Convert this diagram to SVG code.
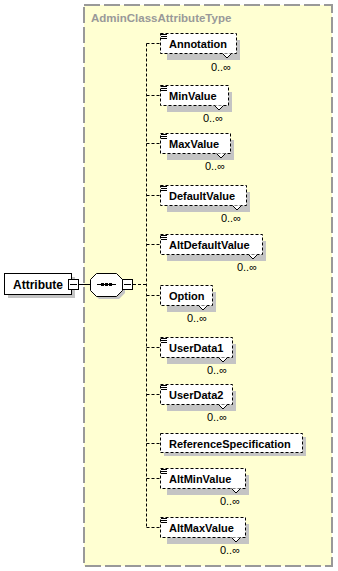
<svg xmlns="http://www.w3.org/2000/svg" width="338" height="571" viewBox="0 0 338 571">
<style>
.box{fill:#fff;stroke:#000;stroke-width:1;stroke-dasharray:3 2}
.sh{fill:#c4c4c4}
.lbl{font-family:"Liberation Sans",Arial,sans-serif;font-weight:bold;font-size:11px;fill:#000}
.mul{font-family:"Liberation Sans",Arial,sans-serif;font-size:11px;fill:#000;text-anchor:end}
.doc{stroke:#000;stroke-width:1}
.notch{fill:#fff;stroke:#000;stroke-width:1}
.con{stroke:#000;stroke-width:1;fill:none;stroke-dasharray:3 2}
.btn{fill:#fff;stroke:#000;stroke-width:1}
</style>
<rect x="84" y="5" width="248" height="561" fill="#ffffd2" stroke="#999" stroke-width="2" stroke-dasharray="16 4"/>
<text x="91" y="22" font-family="Liberation Sans,Arial,sans-serif" font-weight="bold" font-size="11.5" fill="#999">AdminClassAttributeType</text>

<g id="connectors">
<line x1="78" y1="284.5" x2="90" y2="284.5" stroke="#000"/>
<line class="con" x1="133" y1="284.5" x2="146.5" y2="284.5"/>
<line class="con" x1="146.5" y1="43.5" x2="146.5" y2="527.5"/>
<line class="con" x1="146.5" y1="43.5" x2="161" y2="43.5"/>
<line class="con" x1="146.5" y1="95.5" x2="161" y2="95.5"/>
<line class="con" x1="146.5" y1="143.5" x2="161" y2="143.5"/>
<line class="con" x1="146.5" y1="195.5" x2="161" y2="195.5"/>
<line class="con" x1="146.5" y1="244.5" x2="161" y2="244.5"/>
<line class="con" x1="146.5" y1="295.5" x2="161" y2="295.5"/>
<line class="con" x1="146.5" y1="347.5" x2="161" y2="347.5"/>
<line class="con" x1="146.5" y1="394.5" x2="161" y2="394.5"/>
<line class="con" x1="146.5" y1="443.5" x2="161" y2="443.5"/>
<line class="con" x1="146.5" y1="478.5" x2="161" y2="478.5"/>
<line class="con" x1="146.5" y1="527.5" x2="161" y2="527.5"/>
</g>

<g id="Attribute">
<rect x="8" y="277" width="67" height="21" class="sh"/>
<rect x="4.5" y="273.5" width="67" height="21" fill="#fff" stroke="#000"/>
<text x="13" y="289" font-family="Liberation Sans,Arial,sans-serif" font-weight="bold" font-size="12">Attribute</text>
<rect x="68.5" y="279.5" width="10" height="10" class="btn"/>
<line x1="70" y1="284.5" x2="77" y2="284.5" stroke="#000"/>
</g>

<g id="sequence">
<polygon points="99,276 119,276 125,282 125,293 119,299 99,299 93,293 93,282" class="sh"/>
<polygon points="96.5,273.5 116.5,273.5 122.5,279.5 122.5,290.5 116.5,296.5 96.5,296.5 90.5,290.5 90.5,279.5" fill="#fff" stroke="#000"/>
<line x1="97" y1="284.5" x2="116" y2="284.5" stroke="#000"/>
<rect x="101" y="283" width="3" height="3" fill="#000"/>
<rect x="105" y="283" width="3" height="3" fill="#000"/>
<rect x="109" y="283" width="3" height="3" fill="#000"/>
<rect x="122.5" y="279.5" width="10" height="10" class="btn"/>
<line x1="124" y1="284.5" x2="131" y2="284.5" stroke="#000"/>
</g>

<g id="Annotation">
<rect x="167" y="40" width="73" height="20" class="sh"/>
<rect x="160.5" y="33.5" width="76" height="20" class="box"/>
<path d="M222.5,53.5 L227,58 L231.5,53.5" class="notch"/>
<path d="M161,34.5h6M161,36.5h6M161,38.5h6" class="doc"/>
<text x="169" y="47.5" class="lbl">Annotation</text>
<text x="231" y="71" class="mul">0..∞</text>
</g>

<g id="MinValue">
<rect x="167" y="92" width="65" height="20" class="sh"/>
<rect x="160.5" y="85.5" width="68" height="20" class="box"/>
<path d="M214.5,105.5 L219,110 L223.5,105.5" class="notch"/>
<path d="M161,86.5h6M161,88.5h6M161,90.5h6" class="doc"/>
<text x="169" y="99.5" class="lbl">MinValue</text>
<text x="223" y="122" class="mul">0..∞</text>
</g>

<g id="MaxValue">
<rect x="167" y="140" width="67" height="20" class="sh"/>
<rect x="160.5" y="133.5" width="70" height="20" class="box"/>
<path d="M216.5,153.5 L221,158 L225.5,153.5" class="notch"/>
<path d="M161,134.5h6M161,136.5h6M161,138.5h6" class="doc"/>
<text x="169" y="147.5" class="lbl">MaxValue</text>
<text x="225" y="170" class="mul">0..∞</text>
</g>

<g id="DefaultValue">
<rect x="167" y="192" width="83" height="20" class="sh"/>
<rect x="160.5" y="185.5" width="86" height="20" class="box"/>
<path d="M232.5,205.5 L237,210 L241.5,205.5" class="notch"/>
<path d="M161,186.5h6M161,188.5h6M161,190.5h6" class="doc"/>
<text x="169" y="199.5" class="lbl">DefaultValue</text>
<text x="241" y="222" class="mul">0..∞</text>
</g>

<g id="AltDefaultValue">
<rect x="167" y="241" width="99" height="20" class="sh"/>
<rect x="160.5" y="234.5" width="102" height="20" class="box"/>
<path d="M248.5,254.5 L253,259 L257.5,254.5" class="notch"/>
<path d="M161,235.5h6M161,237.5h6M161,239.5h6" class="doc"/>
<text x="169" y="248.5" class="lbl">AltDefaultValue</text>
<text x="257" y="271" class="mul">0..∞</text>
</g>

<g id="Option">
<rect x="167" y="292" width="49" height="20" class="sh"/>
<rect x="160.5" y="285.5" width="52" height="20" class="box"/>
<path d="M198.5,305.5 L203,310 L207.5,305.5" class="notch"/>
<text x="169" y="299.5" class="lbl">Option</text>
<text x="207" y="322" class="mul">0..∞</text>
</g>

<g id="UserData1">
<rect x="167" y="344" width="69" height="20" class="sh"/>
<rect x="160.5" y="337.5" width="72" height="20" class="box"/>
<path d="M218.5,357.5 L223,362 L227.5,357.5" class="notch"/>
<path d="M161,338.5h6M161,340.5h6M161,342.5h6" class="doc"/>
<text x="169" y="351.5" class="lbl">UserData1</text>
<text x="227" y="374" class="mul">0..∞</text>
</g>

<g id="UserData2">
<rect x="167" y="391" width="69" height="20" class="sh"/>
<rect x="160.5" y="384.5" width="72" height="20" class="box"/>
<path d="M218.5,404.5 L223,409 L227.5,404.5" class="notch"/>
<path d="M161,385.5h6M161,387.5h6M161,389.5h6" class="doc"/>
<text x="169" y="398.5" class="lbl">UserData2</text>
<text x="227" y="421" class="mul">0..∞</text>
</g>

<g id="ReferenceSpecification">
<rect x="164" y="437" width="142" height="19" class="sh"/>
<rect x="160.5" y="433.5" width="142" height="19" class="box"/>
<text x="169" y="447.5" class="lbl">ReferenceSpecification</text>
</g>

<g id="AltMinValue">
<rect x="167" y="475" width="82" height="20" class="sh"/>
<rect x="160.5" y="468.5" width="85" height="20" class="box"/>
<path d="M231.5,488.5 L236,493 L240.5,488.5" class="notch"/>
<path d="M161,469.5h6M161,471.5h6M161,473.5h6" class="doc"/>
<text x="169" y="482.5" class="lbl">AltMinValue</text>
<text x="240" y="505" class="mul">0..∞</text>
</g>

<g id="AltMaxValue">
<rect x="167" y="524" width="82" height="20" class="sh"/>
<rect x="160.5" y="517.5" width="85" height="20" class="box"/>
<path d="M231.5,537.5 L236,542 L240.5,537.5" class="notch"/>
<path d="M161,518.5h6M161,520.5h6M161,522.5h6" class="doc"/>
<text x="169" y="531.5" class="lbl">AltMaxValue</text>
<text x="240" y="554" class="mul">0..∞</text>
</g>
</svg>
